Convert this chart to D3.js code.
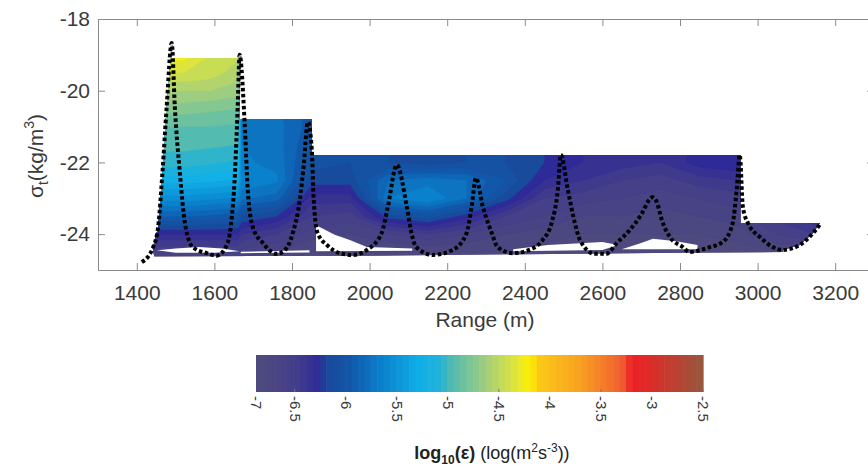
<!DOCTYPE html>
<html>
<head>
<meta charset="utf-8">
<script src="https://cdn.jsdelivr.net/npm/d3@7"></script>
<style>
  body { margin: 0; background: #fff; }
  svg { font-family: "Liberation Sans", Arial, sans-serif; }
</style>
</head>
<body>
<svg id="chart" width="868" height="468"></svg>
<script>
// ---- data ----
// dissipation grid, log10(eps); columns at gridRanges (m), rows at gridSigmas
const gridRanges = [1450,1520,1590,1660,1670,1760,1850,1950,2050,2150,2250,2350,2450,2550,2650,2750,2850,2950,3050,3150,3250];
const gridSigmas = [-18.5,-19,-19.5,-20,-20.5,-21,-21.5,-22,-22.5,-23,-23.5,-24,-24.5,-25];
const epsGrid = [
  [-4.2 ,-4.2 ,-4.35,-4.45,-5.75,-5.78,-5.95,-6.1 ,-6.1 ,-6.15,-6.1 ,-6.1 ,-6.2 ,-6.3 ,-6.35,-6.4 ,-6.25,-6.2 ,-6.3 ,-6.2 ,-6.2 ],
  [-4.25,-4.25,-4.4 ,-4.48,-5.75,-5.78,-5.95,-6.1 ,-6.1 ,-6.15,-6.1 ,-6.1 ,-6.2 ,-6.3 ,-6.35,-6.4 ,-6.25,-6.2 ,-6.3 ,-6.2 ,-6.2 ],
  [-4.4 ,-4.4 ,-4.45,-4.55,-5.75,-5.78,-5.95,-6.1 ,-6.1 ,-6.15,-6.1 ,-6.1 ,-6.2 ,-6.3 ,-6.35,-6.4 ,-6.25,-6.2 ,-6.3 ,-6.2 ,-6.2 ],
  [-4.6 ,-4.6 ,-4.6 ,-4.65,-5.75,-5.78,-5.95,-6.1 ,-6.1 ,-6.15,-6.1 ,-6.1 ,-6.2 ,-6.3 ,-6.35,-6.4 ,-6.25,-6.2 ,-6.3 ,-6.2 ,-6.2 ],
  [-4.75,-4.75,-4.78,-4.8 ,-5.75,-5.78,-5.95,-6.1 ,-6.1 ,-6.15,-6.1 ,-6.1 ,-6.2 ,-6.3 ,-6.35,-6.4 ,-6.25,-6.2 ,-6.3 ,-6.2 ,-6.2 ],
  [-4.9 ,-4.9 ,-4.9 ,-4.92,-5.72,-5.76,-5.95,-6.1 ,-6.1 ,-6.15,-6.1 ,-6.1 ,-6.2 ,-6.3 ,-6.35,-6.4 ,-6.25,-6.2 ,-6.3 ,-6.2 ,-6.2 ],
  [-4.97,-4.97,-4.98,-5.0 ,-5.7 ,-5.75,-6.0 ,-6.1 ,-6.1 ,-6.15,-6.1 ,-6.1 ,-6.2 ,-6.3 ,-6.35,-6.4 ,-6.25,-6.2 ,-6.3 ,-6.2 ,-6.2 ],
  [-5.05,-5.05,-5.08,-5.12,-5.68,-5.73,-6.05,-6.1 ,-6.1 ,-6.15,-6.1 ,-6.1 ,-6.2 ,-6.3 ,-6.35,-6.4 ,-6.25,-6.2 ,-6.3 ,-6.2 ,-6.2 ],
  [-5.25,-5.25,-5.28,-5.32,-5.62,-5.68,-6.15,-6.15,-5.8 ,-5.75,-5.8 ,-6.0 ,-6.3 ,-6.4 ,-6.5 ,-6.55,-6.45,-6.4 ,-6.4 ,-6.3 ,-6.3 ],
  [-5.55,-5.55,-5.58,-5.62,-5.78,-5.85,-6.35,-6.35,-5.7 ,-5.6 ,-5.8 ,-6.15,-6.5 ,-6.55,-6.6 ,-6.65,-6.6 ,-6.55,-6.45,-6.3 ,-6.3 ],
  [-5.9 ,-5.9 ,-5.92,-5.98,-6.1 ,-6.2 ,-6.5 ,-6.55,-6.15,-6.05,-6.25,-6.5 ,-6.6 ,-6.7 ,-6.7 ,-6.75,-6.7 ,-6.65,-6.45,-6.3 ,-6.3 ],
  [-6.3 ,-6.3 ,-6.3 ,-6.3 ,-6.4 ,-6.5 ,-6.65,-6.7 ,-6.6 ,-6.5 ,-6.6 ,-6.7 ,-6.75,-6.8 ,-6.8 ,-6.8 ,-6.8 ,-6.75,-6.6 ,-6.5 ,-6.5 ],
  [-6.6 ,-6.6 ,-6.6 ,-6.6 ,-6.65,-6.7 ,-6.8 ,-6.8 ,-6.8 ,-6.8 ,-6.8 ,-6.8 ,-6.85,-6.85,-6.85,-6.85,-6.85,-6.85,-6.8 ,-6.75,-6.75],
  [-6.85,-6.85,-6.85,-6.85,-6.85,-6.85,-6.85,-6.85,-6.85,-6.85,-6.85,-6.85,-6.85,-6.85,-6.85,-6.85,-6.85,-6.85,-6.85,-6.85,-6.85]
];

// outline of the sampled area (range m, sigma_t)
const domainOutline = [
  [1488,-19.09],[1665,-19.09],[1665,-20.79],[1850,-20.79],[1850,-21.79],[2956,-21.79],
  [2956,-23.69],[3160,-23.69],[3143,-23.97],[3109,-24.3],[3065,-24.44],[3065,-24.5],
  [2800,-24.52],[2400,-24.56],[2000,-24.6],[1445,-24.62],[1441,-24.39],[1455,-23.8],
  [1466,-22.3],[1477,-20.45]
];

// unsampled holes near the bottom
const gapOutlines = [
  [[1452,-24.45],[1500,-24.4],[1560,-24.36],[1620,-24.4],[1665,-24.48],[1600,-24.52],[1500,-24.52]],
  [[1668,-24.49],[1760,-24.47],[1845,-24.45],[1845,-24.51],[1668,-24.53]],
  [[1862,-23.75],[1880,-23.85],[1910,-24.02],[1949,-24.16],[1993,-24.36],[2110,-24.4],[2110,-24.46],[1862,-24.48]],
  [[2370,-24.42],[2460,-24.3],[2600,-24.22],[2640,-24.3],[2600,-24.44],[2370,-24.48]],
  [[2650,-24.42],[2700,-24.25],[2730,-24.13],[2790,-24.2],[2845,-24.3],[2845,-24.42]]
];

// tow-yo track
const trackRange = [1413,1441,1455,1466,1477,1490,1498,1511,1524,1544,1580,1606,1632,1642,1653,1660,1665,
  1678,1686,1699,1725,1760,1781,1802,1820,1830,1841,1851,1856,1866,1890,1923,1957,1993,2031,2047,2070,
  2096,2108,2120,2163,2214,2250,2263,2274,2292,2315,2330,2369,2420,2446,2469,2485,2493,
  2511,2529,2542,2580,2610,2637,2671,2696,2704,2717,2730,2740,2753,2774,2807,2825,2850,2877,2910,2936,2946,2954,
  2962,2975,3006,3039,3065,3109,3143,3160];
const trackSigma = [-24.78,-24.39,-23.8,-22.3,-20.45,-18.67,-20.45,-22.3,-23.69,-24.36,-24.53,-24.6,-24.3,-23.8,-22.3,-20.45,-19.0,
  -20.9,-22.77,-23.8,-24.25,-24.55,-24.45,-23.97,-23.05,-22.1,-20.87,-21.65,-23.05,-23.97,-24.3,-24.53,-24.58,-24.44,-23.97,-23.24,-22.07,
  -23.24,-23.97,-24.36,-24.58,-24.44,-23.97,-23.24,-22.43,-23.24,-23.97,-24.36,-24.53,-24.4,-24.16,-23.69,-22.77,-21.79,
  -22.77,-23.69,-24.16,-24.55,-24.55,-24.25,-23.88,-23.52,-23.38,-23.1,-22.97,-23.1,-23.6,-24.08,-24.36,-24.5,-24.45,-24.36,-24.22,-23.69,-22.77,-21.79,
  -23.24,-23.69,-24.08,-24.36,-24.44,-24.3,-23.97,-23.74];

const xTicks = [1400,1600,1800,2000,2200,2400,2600,2800,3000,3200];
const yTicks = [-18, -20, -22, -24];

// colour map (log10 eps -> colour)
const cmapValues = [-6.88,-6.5,-6.25,-6.2,-5.95,-5.66,-5.27,-5.08,-5.0,-4.6,-4.3,-4.2,-4.1,-3.7,-3.3,-3.2,-3.05,-2.5];
const cmapColors = ["#4f4b7d","#443e8a","#2e2a98","#1a4898","#1258aa","#0a80cc","#10b0e8","#22b2d8","#48b8b8",
  "#a8d078","#e8e830","#fcf000","#fcc818","#f8a020","#f06030","#ec2024","#e02a28","#96583e"];
const cbLabels = [-7,-6.5,-6,-5.5,-5,-4.5,-4,-3.5,-3,-2.5];
const cbTickMarks = [-6.5,-5.5,-4.5,-3.5,-2.5];

// ---- drawing ----
const svg = d3.select("#chart");
const margin = { left: 98, right: 874, top: 19, bottom: 270 };

const xScale = d3.scaleLinear().domain([1300, 3300]).range([margin.left, margin.right]);
const yScale = d3.scaleLinear().domain([-25, -18]).range([margin.bottom, margin.top]);
const color = d3.scaleLinear().domain(cmapValues).range(cmapColors).clamp(true);

const toPoints = function(pts) { return pts.map(function(p) { return [xScale(p[0]), yScale(p[1])]; }); };

svg.append("clipPath").attr("id", "dataClip")
  .append("polygon")
  .attr("points", toPoints(domainOutline).join(" "));

// contour fill; grid index -> range/sigma through piecewise scales (columns are not evenly spaced)
const nx = gridRanges.length, ny = gridSigmas.length;
const colToRange = d3.scaleLinear().domain(d3.range(nx)).range(gridRanges);
const rowToSigma = d3.scaleLinear().domain(d3.range(ny)).range(gridSigmas);
const flat = [].concat.apply([], epsGrid);
const levelStep = 0.1;
const levels = [-8].concat(d3.range(-6.9, -2.5, levelStep));
const contours = d3.contours().size([nx, ny]).thresholds(levels)(flat);

const gridProj = d3.geoTransform({
  point: function(gx, gy) {
    this.stream.point(xScale(colToRange(gx - 0.5)), yScale(rowToSigma(gy - 0.5)));
  }
});
const gridPath = d3.geoPath(gridProj);
const bandColor = function(d) { return color(d.value < -6.9 ? -6.88 : d.value + levelStep / 2); };

const field = svg.append("g").attr("clip-path", "url(#dataClip)");
field.selectAll("path")
  .data(contours)
  .enter()
  .append("path")
  .attr("d", gridPath)
  .attr("fill", bandColor)
  .attr("stroke", bandColor)
  .attr("stroke-width", 0.5);

svg.append("g").selectAll("polygon")
  .data(gapOutlines)
  .enter()
  .append("polygon")
  .attr("points", function(d) { return toPoints(d).join(" "); })
  .attr("fill", "#fff");

// axes, matlab box style with inward ticks
const axisColor = "#8a8a8a", textColor = "#3a3a3a";
const styleAxis = function(g) {
  g.select(".domain").attr("stroke", axisColor);
  g.selectAll(".tick line").attr("stroke", axisColor);
  g.selectAll(".tick text").attr("fill", textColor).attr("font-size", 21);
};
svg.append("g").attr("transform", "translate(0," + margin.bottom + ")")
  .call(d3.axisBottom(xScale).tickValues(xTicks).tickSizeInner(-7).tickSizeOuter(0).tickPadding(15)
    .tickFormat(function(d) { return String(d); }))
  .call(styleAxis);
svg.append("g").attr("transform", "translate(0," + margin.top + ")")
  .call(d3.axisTop(xScale).tickValues(xTicks).tickSizeInner(-7).tickSizeOuter(0).tickFormat(""))
  .call(styleAxis);
svg.append("g").attr("transform", "translate(" + margin.left + ",0)")
  .call(d3.axisLeft(yScale).tickValues(yTicks).tickSizeInner(-7).tickSizeOuter(0).tickPadding(8)
    .tickFormat(function(d) { return String(d); }))
  .call(styleAxis);
svg.append("g").attr("transform", "translate(" + margin.right + ",0)")
  .call(d3.axisRight(yScale).tickValues(yTicks).tickSizeInner(-7).tickSizeOuter(0).tickFormat(""))
  .call(styleAxis);

// track, drawn on top
const trackLine = d3.line()
  .x(function(d) { return xScale(d[0]); })
  .y(function(d) { return yScale(d[1]); })
  .curve(d3.curveMonotoneX);
svg.append("path")
  .datum(d3.zip(trackRange, trackSigma))
  .attr("d", trackLine)
  .attr("fill", "none")
  .attr("stroke", "#000")
  .attr("stroke-width", 4)
  .attr("stroke-dasharray", "3.5 2.5");

// axis titles
svg.append("text")
  .attr("x", 485).attr("y", 327)
  .attr("text-anchor", "middle").attr("font-size", 21).attr("fill", textColor)
  .text("Range (m)");

const yTitle = svg.append("text")
  .attr("transform", "translate(43,156) rotate(-90)")
  .attr("text-anchor", "middle").attr("font-size", 21).attr("fill", textColor);
yTitle.append("tspan").text("\u03c3");
yTitle.append("tspan").attr("font-size", 14).attr("dy", 5).text("t");
yTitle.append("tspan").attr("dy", -5).text("(kg/m");
yTitle.append("tspan").attr("font-size", 14).attr("dy", -9).text("3");
yTitle.append("tspan").attr("dy", 9).text(")");

// colourbar
const cbScale = d3.scaleLinear().domain([-6.88, -2.5]).range([256, 703]).clamp(true);
const cbTop = 355, cbHeight = 37;
const cbSteps = d3.range(-6.88, -2.5, 0.0625);
svg.append("g").selectAll("rect")
  .data(cbSteps)
  .enter()
  .append("rect")
  .attr("x", function(d) { return cbScale(d); })
  .attr("y", cbTop)
  .attr("width", function(d) { return cbScale(Math.min(d + 0.0625, -2.5)) - cbScale(d) + 0.6; })
  .attr("height", cbHeight)
  .attr("fill", function(d) { return color(d + 0.03); });

svg.append("g").selectAll("line")
  .data(cbTickMarks)
  .enter()
  .append("line")
  .attr("x1", function(d) { return cbScale(d); }).attr("x2", function(d) { return cbScale(d); })
  .attr("y1", cbTop + cbHeight - 3).attr("y2", cbTop + cbHeight)
  .attr("stroke", "#777").attr("stroke-width", 1);

svg.append("g").selectAll("text")
  .data(cbLabels)
  .enter()
  .append("text")
  .attr("transform", function(d) { return "translate(" + cbScale(d) + "," + (cbTop + cbHeight + 4) + ") rotate(90)"; })
  .attr("dy", "0.35em")
  .attr("font-size", 15).attr("fill", textColor)
  .text(function(d) { return String(d); });

const cbTitle = svg.append("text")
  .attr("x", 492).attr("y", 459)
  .attr("text-anchor", "middle").attr("font-size", 18).attr("fill", "#222");
cbTitle.append("tspan").attr("font-weight", "bold").text("log");
cbTitle.append("tspan").attr("font-weight", "bold").attr("font-size", 12).attr("dy", 5).text("10");
cbTitle.append("tspan").attr("font-weight", "bold").attr("dy", -5).text("(\u03b5)");
cbTitle.append("tspan").text(" (log(m");
cbTitle.append("tspan").attr("font-size", 12).attr("dy", -7).text("2");
cbTitle.append("tspan").attr("dy", 7).text("s");
cbTitle.append("tspan").attr("font-size", 12).attr("dy", -7).text("-3");
cbTitle.append("tspan").attr("dy", 7).text("))");
</script>
</body>
</html>
